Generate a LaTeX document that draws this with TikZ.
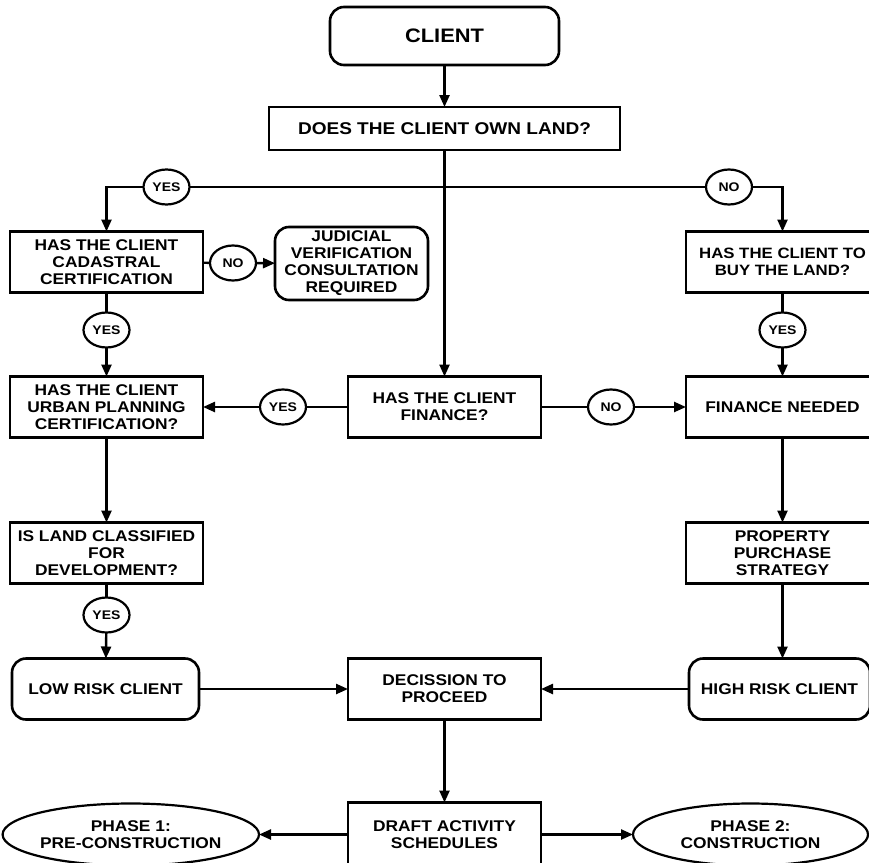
\documentclass[tikz,border=0pt]{standalone}
\usepackage{fontspec}
\setmainfont{Liberation Sans}[FakeStretch=1.12]
\usetikzlibrary{arrows.meta,positioning,shapes.geometric}

\begin{document}
\begin{tikzpicture}[
   x=1pt, y=-1pt,
   box/.style={draw, line width=2.6pt, align=center, inner sep=0pt,
      outer sep=0pt, minimum width=193pt, minimum height=61pt,
      font=\bfseries\fontsize{15.5}{17}\selectfont},
   roundbox/.style={box, rounded corners=14pt},
   answer/.style={draw, ellipse, line width=2.2pt, inner sep=0pt,
      outer sep=0pt, minimum width=46pt, minimum height=35pt,
      font=\bfseries\fontsize{12.5}{14}\selectfont},
   phase/.style={draw, ellipse, line width=2.2pt, align=center, inner sep=0pt,
      outer sep=0pt, minimum width=247pt, minimum height=62pt,
      font=\bfseries\fontsize{15.5}{17}\selectfont},
   arrow/.style={-{Triangle[length=12pt,width=10pt]}, line width=2.4pt},
   link/.style={line width=2.4pt}
]
\useasboundingbox (0,0) rectangle (869,862);

\node[roundbox, minimum width=229pt, minimum height=58pt,
   font=\bfseries\fontsize{19.5}{22}\selectfont] (client) at (444.5,36) {CLIENT};
\node[box, minimum width=351pt, minimum height=43pt,
   font=\bfseries\fontsize{17}{19}\selectfont, below=42pt of client] (ownland)
   {DOES THE CLIENT OWN LAND?};
\node[box] (finance) at (444.5,407) {HAS THE CLIENT\\FINANCE?};
\node[box, left=145pt of finance] (urban)
   {HAS THE CLIENT\\URBAN PLANNING\\CERTIFICATION?};
\node[box, right=145pt of finance] (needed) {FINANCE NEEDED};
\node[box, above=84pt of urban] (cadastral)
   {HAS THE CLIENT\\CADASTRAL\\CERTIFICATION};
\node[box, above=84pt of needed, font=\bfseries\fontsize{15}{17}\selectfont]
   (buy) {HAS THE CLIENT TO\\BUY THE LAND?};
\node[roundbox, minimum width=153pt, minimum height=73pt] (judicial)
   at (351.5,263.5) {JUDICIAL\\VERIFICATION\\CONSULTATION\\REQUIRED};
\node[box, below=85pt of urban] (classified)
   {IS LAND CLASSIFIED\\FOR\\DEVELOPMENT?};
\node[box, below=85pt of needed] (strategy) {PROPERTY\\PURCHASE\\STRATEGY};
\node[box, below=221pt of finance] (decide) {DECISSION TO\\PROCEED};
\node[roundbox, minimum width=187pt, left=149pt of decide] (lowrisk)
   {LOW RISK CLIENT};
\node[roundbox, minimum width=181pt, right=148pt of decide] (highrisk)
   {HIGH RISK CLIENT};
\node[box, minimum height=64pt, below=83pt of decide] (draft)
   {DRAFT ACTIVITY\\SCHEDULES};
\node[phase, left=89pt of draft] (phaseone) {PHASE 1:\\PRE-CONSTRUCTION};
\node[phase, minimum width=235pt, right=92pt of draft] (phasetwo)
   {PHASE 2:\\CONSTRUCTION};

\node[answer] (yesown) at (166.5,187) {YES};
\node[answer] (noown) at (729,187) {NO};
\node[answer] (nocad) at (233,263) {NO};
\node[answer] (yescad) at (106.5,330) {YES};
\node[answer] (yesbuy) at (782.5,330) {YES};
\node[answer] (yesfin) at (283,407) {YES};
\node[answer] (nofin) at (611,407) {NO};
\node[answer] (yesclass) at (106.5,615) {YES};

\draw[arrow] (client) -- (ownland);
\draw[arrow] (ownland) -- (finance);
\draw[link] (yesown) -- (noown);
\draw[arrow] (yesown) -| (cadastral);
\draw[arrow] (noown) -| (buy);
\draw[link] (cadastral) -- (nocad);
\draw[arrow] (nocad) -- (judicial);
\draw[link] (cadastral) -- (yescad);
\draw[arrow] (yescad) -- (urban);
\draw[link] (buy) -- (yesbuy);
\draw[arrow] (yesbuy) -- (needed);
\draw[link] (finance) -- (yesfin);
\draw[arrow] (yesfin) -- (urban);
\draw[link] (finance) -- (nofin);
\draw[arrow] (nofin) -- (needed);
\draw[arrow] (urban) -- (classified);
\draw[link] (classified) -- (yesclass);
\draw[arrow] (yesclass) -- (lowrisk);
\draw[arrow] (needed) -- (strategy);
\draw[arrow] (strategy) -- (strategy |- highrisk.north);
\draw[arrow] (lowrisk) -- (decide);
\draw[arrow] (highrisk) -- (decide);
\draw[arrow] (decide) -- (draft);
\draw[arrow] (draft) -- (phaseone);
\draw[arrow] (draft) -- (phasetwo);
\end{tikzpicture}
\end{document}
